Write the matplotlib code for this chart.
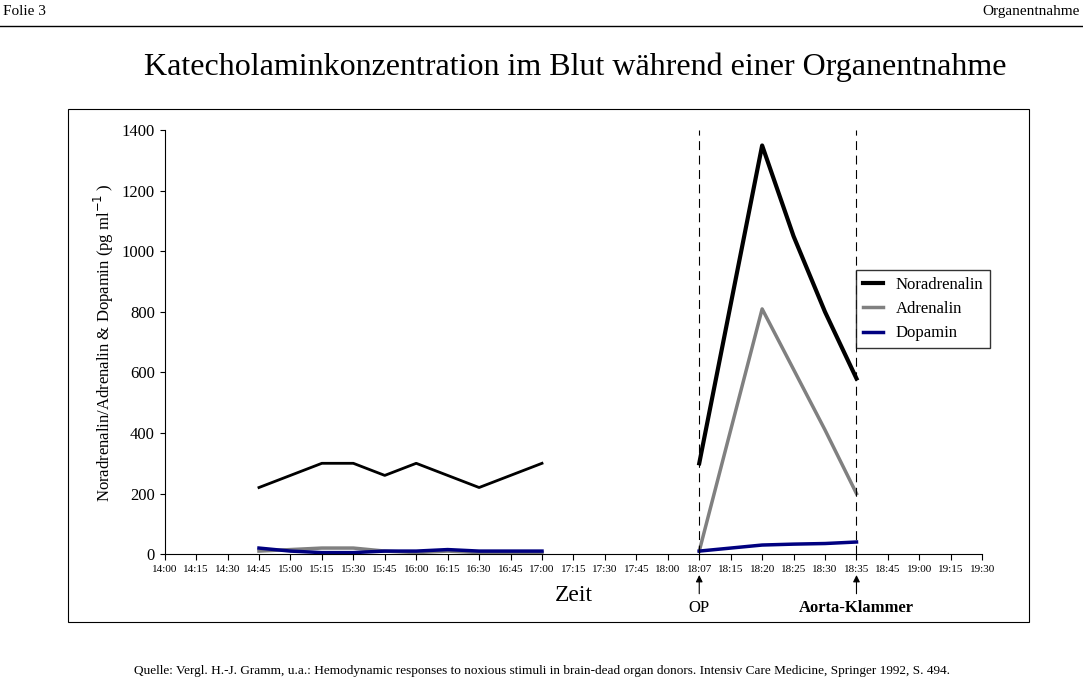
import matplotlib.pyplot as plt
import numpy as np

plt.rcParams['font.family'] = 'Liberation Serif'

zeiten = ['14:00','14:15','14:30','14:45','15:00','15:15','15:30','15:45','16:00','16:15',
          '16:30','16:45','17:00','17:15','17:30','17:45','18:00','18:07','18:15','18:20',
          '18:25','18:30','18:35','18:45','19:00','19:15','19:30']
idx1 = np.arange(3, 13)
idx2 = np.arange(17, 23)
nor1 = [220, 260, 300, 300, 260, 300, 260, 220, 260, 300]
adr1 = [10, 15, 20, 20, 10, 5, 10, 5, 5, 5]
dop1 = [20, 10, 5, 5, 10, 10, 15, 10, 10, 10]
nor2 = [300, 825, 1350, 1050, 800, 580]
adr2 = [10, 410, 810, 610, 410, 200]
dop2 = [10, 20, 30, 33, 35, 40]

fig = plt.figure(figsize=(10.83, 6.97), dpi=100)
fig.text(0.003, 0.983, 'Folie 3', fontsize=11, va='center')
fig.text(0.997, 0.983, 'Organentnahme', fontsize=11, va='center', ha='right')
fig.add_artist(plt.Line2D([0, 1], [0.962, 0.962], color='black', lw=1))
fig.text(0.531, 0.903, 'Katecholaminkonzentration im Blut während einer Organentnahme', fontsize=23, ha='center', va='center')
fig.add_artist(plt.Rectangle((0.063, 0.108), 0.887, 0.735, fill=False, lw=0.8, color='black'))
fig.text(0.5, 0.038, 'Quelle: Vergl. H.-J. Gramm, u.a.: Hemodynamic responses to noxious stimuli in brain-dead organ donors. Intensiv Care Medicine, Springer 1992, S. 494.',
         fontsize=9.5, ha='center', va='center')

ax = fig.add_axes([0.152, 0.205, 0.755, 0.608])
ax.plot(idx1, nor1, color='black', lw=2)
ax.plot(idx1, adr1, color='gray', lw=2.5)
ax.plot(idx1, dop1, color='navy', lw=2.5)
ax.plot(idx2, nor2, color='black', lw=3, label='Noradrenalin')
ax.plot(idx2, adr2, color='gray', lw=2.5, label='Adrenalin')
ax.plot(idx2, dop2, color='navy', lw=2.5, label='Dopamin')
for x in (17, 22):
    ax.axvline(x, color='black', lw=0.8, ls=(0, (8, 5)))
ax.set_xlim(0, 25.8)
ax.set_ylim(0, 1400)
ax.set_yticks(range(0, 1401, 200))
ax.set_xticks(range(len(zeiten)))
ax.set_xticklabels(zeiten, fontsize=8)
ax.tick_params(axis='y', labelsize=12)
ax.tick_params(axis='x', length=4)
for s in ('top', 'right'):
    ax.spines[s].set_visible(False)
ax.set_ylabel('Noradrenalin/Adrenalin & Dopamin (pg ml$^{-1}$ )', fontsize=12)
ax.set_xlabel('Zeit', fontsize=17, labelpad=8)
for x, t in ((17, 'OP'), (22, 'Aorta-Klammer')):
    ax.annotate('', xy=(x, -60), xytext=(x, -140), xycoords='data', textcoords='data',
                arrowprops=dict(arrowstyle='-|>', color='black', lw=0.8), annotation_clip=False)
    ax.text(x, -150, t, ha='center', va='top', fontsize=12, fontweight='bold' if x == 22 else 'normal')
ax.legend(loc='upper right', bbox_to_anchor=(1.02, 0.69), fontsize=12, frameon=True, fancybox=False,
          edgecolor='black', handlelength=1.2, borderpad=0.4)
fig.savefig('out.png')
